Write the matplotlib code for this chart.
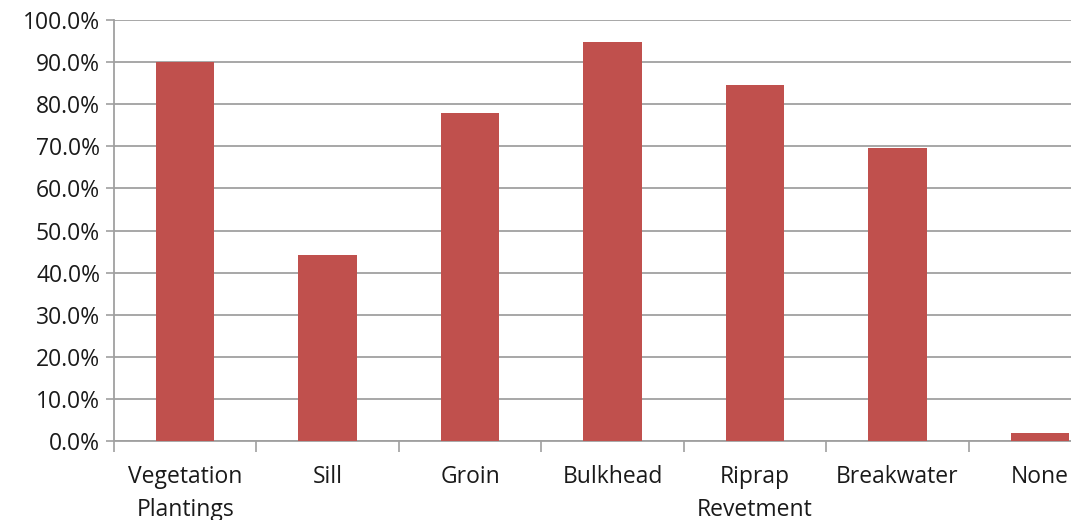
import matplotlib.pyplot as plt
from matplotlib.ticker import FixedLocator, PercentFormatter

plt.rcParams['font.family'] = ['Open Sans', 'DejaVu Sans']

categories = ['Vegetation\nPlantings', 'Sill', 'Groin', 'Bulkhead',
              'Riprap\nRevetment', 'Breakwater', 'None']
values = [90.0, 44.2, 77.9, 94.8, 84.6, 69.6, 1.9]

fig = plt.figure(figsize=(10.71, 5.20), dpi=100)
ax = fig.add_axes([0.1064, 0.1519, 0.931, 0.8096])

x = range(len(categories))
ax.bar(x, values, width=0.41, color='#C0504D', zorder=3)

ax.set_xlim(-0.5, len(categories) - 0.5)
ax.set_ylim(0, 100)
ax.set_yticks(range(0, 101, 10))
ax.yaxis.set_major_formatter(PercentFormatter(decimals=1))
ax.yaxis.grid(True, color='#a0a0a0', linewidth=1.3, zorder=0)

# category labels centred, tick marks between categories
ax.set_xticks(list(x))
ax.set_xticklabels(categories, fontsize=16.5, color='#1a1a1a', linespacing=1.5)
ax.tick_params(axis='x', length=0, pad=17)
ax.xaxis.set_minor_locator(FixedLocator([i - 0.5 for i in range(len(categories) + 1)]))
ax.tick_params(axis='x', which='minor', length=8, width=1.2, color='#a0a0a0')
ax.tick_params(axis='y', length=6, width=1.2, color='#a0a0a0',
               labelsize=16.5, labelcolor='#1a1a1a', pad=4)

for side in ['top', 'right']:
    ax.spines[side].set_visible(False)
for side in ['left', 'bottom']:
    ax.spines[side].set_color('#a0a0a0')
    ax.spines[side].set_linewidth(1.3)

plt.savefig('out.png', dpi=100)
